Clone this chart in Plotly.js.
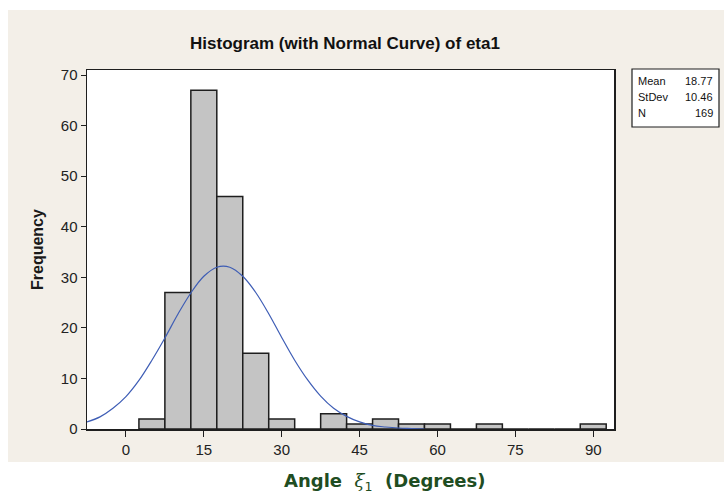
<!DOCTYPE html>
<html>
<head>
<meta charset="utf-8">
<script src="https://cdn.plot.ly/plotly-3.0.1.min.js"></script>
<style>
  html, body { margin: 0; padding: 0; background: #ffffff; }
  #bg { position: absolute; left: 8px; top: 10px; width: 716px; height: 452px; background: #f3efe8; }
  #chart { position: absolute; left: 0; top: 0; width: 724px; height: 498px; }
</style>
</head>
<body>
<div id="bg"></div>
<div id="chart"></div>
<script>
// Histogram bins (centres, width 5) and frequencies
const binCenters = [5, 10, 15, 20, 25, 30, 35, 40, 45, 50, 55, 60, 65, 70, 75, 80, 85, 90];
const frequencies = [2, 27, 67, 46, 15, 2, 0, 3, 1, 2, 1, 1, 0, 1, 0, 0, 0, 1];

// Normal curve points
const curveX = [-7.5, -5, -2.5, 0, 2.5, 5, 7.5, 10, 12.5, 15, 17.5, 20, 22.5, 25, 27.5, 30, 32.5, 35, 37.5, 40, 42.5, 45, 47.5, 50, 52.5, 55, 57.5];
const curveY = [1.4, 2.4, 4.1, 6.4, 9.6, 13.6, 18.0, 22.7, 26.9, 30.2, 32.0, 32.0, 30.2, 27.0, 22.8, 18.1, 13.6, 9.7, 6.5, 4.1, 2.5, 1.4, 0.7, 0.4, 0.2, 0.1, 0.0];

const xTicks = [0, 15, 30, 45, 60, 75, 90];
const yTicks = [0, 10, 20, 30, 40, 50, 60, 70];

const statLabels = ["Mean", "StDev", "N"];
const statValues = ["18.77", "10.46", "169"];

const W = 724, H = 498;
const mL = 87, mR = 110, mT = 70, mB = 69;
const pw = W - mL - mR, ph = H - mT - mB;
const px = x => (x - mL) / pw;
const py = y => (H - mB - y) / ph;

const traces = [
  {
    type: 'bar', x: binCenters, y: frequencies, width: 5,
    marker: { color: '#c4c4c4', line: { color: '#1e1e1e', width: 1.5 } },
    hoverinfo: 'x+y'
  },
  {
    type: 'scatter', mode: 'lines', x: curveX, y: curveY,
    line: { color: '#3e5db5', width: 1.2, shape: 'spline' },
    hoverinfo: 'skip'
  }
];

const annotations = [
  {
    xref: 'paper', yref: 'paper', x: px(37), y: py(250), xanchor: 'center', yanchor: 'middle',
    text: '<b>Frequency</b>', textangle: -90, showarrow: false,
    font: { family: 'Liberation Sans, Arial, sans-serif', size: 16, color: '#1a1a1a' }
  },
  {
    xref: 'paper', yref: 'paper', x: px(385), y: py(482), xanchor: 'center', yanchor: 'middle',
    text: '<b>Angle  </b><span style="font-family:DejaVu Serif"><i>ξ</i></span><sub>1</sub><b>  (Degrees)</b>', showarrow: false,
    font: { family: 'DejaVu Sans, sans-serif', size: 18, color: '#1f4d22' }
  }
];

const rowsY = [81, 97, 113];
statLabels.forEach((lab, i) => {
  annotations.push({
    xref: 'paper', yref: 'paper', x: px(636), y: py(rowsY[i]), xanchor: 'left', yanchor: 'middle',
    text: lab, showarrow: false,
    font: { family: 'Liberation Sans Narrow, Arial Narrow, sans-serif', size: 11, color: '#111' }
  });
  annotations.push({
    xref: 'paper', yref: 'paper', x: px(715), y: py(rowsY[i]), xanchor: 'right', yanchor: 'middle',
    text: statValues[i], showarrow: false,
    font: { family: 'Liberation Sans Narrow, Arial Narrow, sans-serif', size: 11, color: '#111' }
  });
});

const layout = {
  width: W, height: H,
  margin: { l: mL, r: mR, t: mT, b: mB, pad: 0 },
  paper_bgcolor: 'rgba(0,0,0,0)',
  plot_bgcolor: '#ffffff',
  showlegend: false,
  barmode: 'overlay',
  title: {
    text: '<b>Histogram (with Normal Curve) of eta1</b>',
    xref: 'container', x: 345 / W, y: 1 - 43 / H, xanchor: 'center', yanchor: 'middle',
    font: { family: 'Liberation Sans, Arial, sans-serif', size: 17, color: '#111' }
  },
  xaxis: {
    range: [-7.5, 94], tickvals: xTicks, ticktext: xTicks.map(String),
    ticks: 'outside', ticklen: 6, tickwidth: 1, tickcolor: '#1e1e1e',
    showline: true, mirror: true, linecolor: '#1e1e1e', linewidth: 1.5,
    showgrid: false, zeroline: false,
    tickfont: { family: 'Liberation Sans, Arial, sans-serif', size: 15, color: '#222' }
  },
  yaxis: {
    range: [0, 71], tickvals: yTicks, ticktext: yTicks.map(String),
    ticks: 'outside', ticklen: 5, tickwidth: 1, tickcolor: '#1e1e1e',
    showline: true, mirror: true, linecolor: '#1e1e1e', linewidth: 1.5,
    showgrid: false, zeroline: false,
    tickfont: { family: 'Liberation Sans, Arial, sans-serif', size: 15, color: '#222' }
  },
  shapes: [
    {
      type: 'rect', xref: 'paper', yref: 'paper',
      x0: px(632), x1: px(719), y0: py(69), y1: py(127),
      line: { color: '#1e1e1e', width: 1.2 }, fillcolor: '#ffffff', layer: 'above'
    }
  ],
  annotations: annotations
};

Plotly.newPlot('chart', traces, layout, { displayModeBar: false, staticPlot: true });
</script>
</body>
</html>
